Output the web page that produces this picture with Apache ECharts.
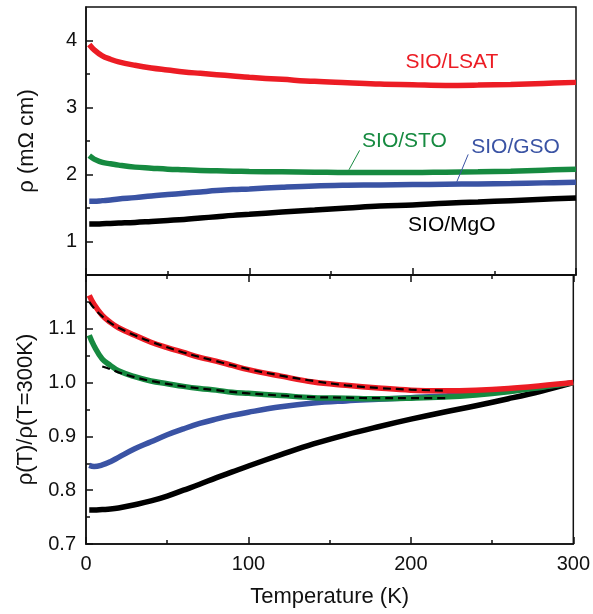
<!DOCTYPE html>
<html>
<head>
<meta charset="utf-8">
<script src="https://cdn.jsdelivr.net/npm/echarts@6/dist/echarts.min.js"></script>
<style>
html, body { margin: 0; padding: 0; background: #fff; }
#chart { width: 593px; height: 614px; }
</style>
</head>
<body>
<div id="chart"></div>
<script>
// temperature grid (K) shared by the measured curves
const temps = [2, 5, 10, 15, 20, 30, 40, 50, 60, 70, 80, 90, 100, 120, 140, 160, 180, 200, 220, 240, 260, 280, 300];

// top panel: resistivity (mOhm cm)
const rhoLSAT = [3.94, 3.86, 3.77, 3.72, 3.68, 3.63, 3.59, 3.56, 3.53, 3.51, 3.49, 3.47, 3.45, 3.42, 3.39, 3.37, 3.35, 3.34, 3.33, 3.335, 3.345, 3.36, 3.375];
const rhoSTO = [2.28, 2.23, 2.18, 2.16, 2.14, 2.11, 2.095, 2.08, 2.07, 2.06, 2.055, 2.05, 2.045, 2.04, 2.035, 2.03, 2.03, 2.03, 2.035, 2.04, 2.05, 2.065, 2.08];
const rhoGSO = [1.60, 1.60, 1.61, 1.62, 1.635, 1.655, 1.68, 1.70, 1.72, 1.74, 1.76, 1.775, 1.785, 1.81, 1.83, 1.84, 1.845, 1.85, 1.855, 1.86, 1.865, 1.875, 1.885];
const rhoMgO = [1.26, 1.26, 1.265, 1.27, 1.275, 1.285, 1.30, 1.315, 1.33, 1.35, 1.37, 1.39, 1.405, 1.44, 1.47, 1.50, 1.53, 1.545, 1.57, 1.59, 1.61, 1.63, 1.65];

// bottom panel: normalised resistivity rho(T)/rho(300K)
const normLSAT = [1.162, 1.145, 1.125, 1.112, 1.102, 1.088, 1.075, 1.065, 1.056, 1.047, 1.040, 1.032, 1.024, 1.012, 1.001, 0.995, 0.990, 0.986, 0.985, 0.986, 0.989, 0.994, 1.0];
const normSTO = [1.088, 1.068, 1.044, 1.032, 1.022, 1.011, 1.003, 0.998, 0.993, 0.989, 0.986, 0.982, 0.980, 0.976, 0.972, 0.971, 0.970, 0.971, 0.973, 0.977, 0.983, 0.991, 1.0];
const normGSO = [0.846, 0.844, 0.847, 0.853, 0.861, 0.877, 0.890, 0.903, 0.914, 0.924, 0.932, 0.939, 0.945, 0.955, 0.962, 0.966, 0.969, 0.972, 0.975, 0.979, 0.985, 0.992, 1.0];
const normMgO = [0.763, 0.763, 0.764, 0.765, 0.767, 0.773, 0.780, 0.789, 0.800, 0.811, 0.823, 0.834, 0.845, 0.866, 0.886, 0.903, 0.918, 0.932, 0.945, 0.957, 0.970, 0.984, 1.0];

// dashed fits
const fitLSATT = [2, 5, 10, 15, 20, 30, 40, 60, 80, 100, 120, 140, 160, 180, 200, 222];
const fitLSAT = [1.150, 1.138, 1.123, 1.111, 1.102, 1.088, 1.076, 1.056, 1.040, 1.025, 1.013, 1.003, 0.995, 0.990, 0.987, 0.985];
const fitSTOT = [10, 15, 20, 30, 40, 60, 80, 100, 120, 140, 160, 180, 200, 222];
const fitSTO = [1.030, 1.025, 1.019, 1.010, 1.003, 0.993, 0.986, 0.980, 0.976, 0.973, 0.972, 0.971, 0.971, 0.971];

// tick values
const xTicks = [0, 100, 200, 300];
const topTicks = [1, 2, 3, 4];
const topMinor = [1.5, 2.5, 3.5];
const botTicks = [0.7, 0.8, 0.9, 1.0, 1.1];
const botMinor = [0.75, 0.85, 0.95, 1.05, 1.15];

const RED = '#ec1c24', GREEN = '#168a40', BLUE = '#3a53a4', BLACK = '#000';

// annotation texts (data coords of label centre, optional leader line)
const notes = [
  { text: 'SIO/LSAT', color: RED, at: [224, 3.68] },
  { text: 'SIO/STO', color: GREEN, at: [195, 2.49], line: [[161, 2.07], [167.5, 2.36]] },
  { text: 'SIO/GSO', color: BLUE, at: [263, 2.40], line: [[227, 1.89], [234, 2.30]] },
  { text: 'SIO/MgO', color: BLACK, at: [224, 1.24] }
];

const FONT = '"Liberation Sans", Arial, sans-serif';
const pair = (xs, ys) => xs.map((x, i) => [x, ys[i]]);

function curve(name, data, color, grid) {
  return {
    name: name, type: 'line', xAxisIndex: grid === 0 ? 0 : 1, yAxisIndex: grid === 0 ? 0 : 2,
    data: data, smooth: 0.4, symbol: 'none', z: 2,
    lineStyle: { color: color, width: 5.5 }
  };
}
function fit(data) {
  return {
    type: 'line', xAxisIndex: 1, yAxisIndex: 2, data: data, smooth: 0.4, symbol: 'none', z: 5,
    lineStyle: { color: '#000', width: 2.2, type: [8, 5] }
  };
}

const tickLabel = { fontSize: 20, color: '#111', fontFamily: FONT };
const tickLine = { color: '#111', width: 1.5 };

let myChart = echarts.init(document.getElementById('chart'));
let option = {
  animation: false,
  grid: [
    { left: 86, top: 7, width: 490, height: 268, show: true, borderColor: '#111', borderWidth: 1.5, backgroundColor: 'transparent' },
    { left: 86, top: 275, width: 490, height: 269, show: true, borderColor: '#111', borderWidth: 1.5, backgroundColor: 'transparent' }
  ],
  xAxis: [
    {
      gridIndex: 0, type: 'value', min: 0, max: 300, interval: 100, position: 'bottom',
      axisLine: { lineStyle: tickLine },
      axisTick: { inside: true, length: 7, lineStyle: tickLine },
      minorTick: { show: true, splitNumber: 2, length: 4, lineStyle: tickLine },
      axisLabel: { show: false }, splitLine: { show: false }, minorSplitLine: { show: false }
    },
    {
      gridIndex: 1, type: 'value', min: 0, max: 300, interval: 100, position: 'bottom',
      name: 'Temperature (K)', nameLocation: 'middle', nameGap: 42,
      nameTextStyle: { fontSize: 22, color: '#111', fontFamily: FONT },
      axisLine: { lineStyle: tickLine },
      axisTick: { inside: true, length: 7, lineStyle: tickLine },
      minorTick: { show: true, splitNumber: 2, length: 4, lineStyle: tickLine },
      axisLabel: Object.assign({ margin: 10, customValues: xTicks }, tickLabel),
      splitLine: { show: false }
    },
    {
      gridIndex: 1, type: 'value', min: 0, max: 300, interval: 100, position: 'top',
      axisLine: { lineStyle: tickLine },
      axisTick: { inside: true, length: 7, lineStyle: tickLine },
      minorTick: { show: true, splitNumber: 2, length: 4, lineStyle: tickLine },
      axisLabel: { show: false }, splitLine: { show: false }
    }
  ],
  yAxis: [
    {
      gridIndex: 0, type: 'value', min: 0.5, max: 4.5, position: 'left',
      name: 'ρ (mΩ cm)', nameLocation: 'middle', nameGap: 48,
      nameTextStyle: { fontSize: 22, color: '#111', fontFamily: FONT },
      axisLine: { show: true, lineStyle: tickLine },
      axisTick: { show: true, inside: true, length: 7, customValues: topTicks, lineStyle: tickLine },
      axisLabel: Object.assign({ margin: 9, customValues: topTicks }, tickLabel),
      splitLine: { show: false }
    },
    {
      gridIndex: 0, type: 'value', min: 0.5, max: 4.5, position: 'left',
      axisLine: { show: false },
      axisTick: { show: true, inside: true, length: 4, customValues: topMinor, lineStyle: tickLine },
      axisLabel: { show: false }, splitLine: { show: false }
    },
    {
      gridIndex: 1, type: 'value', min: 0.7, max: 1.2, position: 'left',
      name: 'ρ(T)/ρ(T=300K)', nameLocation: 'middle', nameGap: 49,
      nameTextStyle: { fontSize: 22, color: '#111', fontFamily: FONT },
      axisLine: { show: true, lineStyle: tickLine },
      axisTick: { show: true, inside: true, length: 7, customValues: botTicks, lineStyle: tickLine },
      axisLabel: Object.assign({ margin: 10, customValues: botTicks, formatter: v => v.toFixed(1) }, tickLabel),
      splitLine: { show: false }
    },
    {
      gridIndex: 1, type: 'value', min: 0.7, max: 1.2, position: 'left',
      axisLine: { show: false },
      axisTick: { show: true, inside: true, length: 4, customValues: botMinor, lineStyle: tickLine },
      axisLabel: { show: false }, splitLine: { show: false }
    }
  ],
  series: [
    curve('SIO/LSAT', pair(temps, rhoLSAT), RED, 0),
    curve('SIO/STO', pair(temps, rhoSTO), GREEN, 0),
    curve('SIO/GSO', pair(temps, rhoGSO), BLUE, 0),
    curve('SIO/MgO', pair(temps, rhoMgO), BLACK, 0),
    curve('SIO/MgO', pair(temps, normMgO), BLACK, 1),
    curve('SIO/GSO', pair(temps, normGSO), BLUE, 1),
    curve('SIO/STO', pair(temps, normSTO), GREEN, 1),
    curve('SIO/LSAT', pair(temps, normLSAT), RED, 1),
    fit(pair(fitLSATT, fitLSAT)),
    fit(pair(fitSTOT, fitSTO))
  ]
};
myChart.setOption(option);

// annotations placed through the top panel's scales
let elements = [];
notes.forEach(n => {
  let p = myChart.convertToPixel({ gridIndex: 0 }, n.at);
  elements.push({
    type: 'text', x: p[0], y: p[1], z: 10,
    style: { text: n.text, fill: n.color, font: '21px ' + FONT, align: 'center', verticalAlign: 'middle' }
  });
  if (n.line) {
    let a = myChart.convertToPixel({ gridIndex: 0 }, n.line[0]);
    let b = myChart.convertToPixel({ gridIndex: 0 }, n.line[1]);
    elements.push({
      type: 'line', z: 10,
      shape: { x1: a[0], y1: a[1], x2: b[0], y2: b[1] },
      style: { stroke: n.color, lineWidth: 1 }
    });
  }
});
myChart.setOption({ graphic: elements });
</script>
</body>
</html>
